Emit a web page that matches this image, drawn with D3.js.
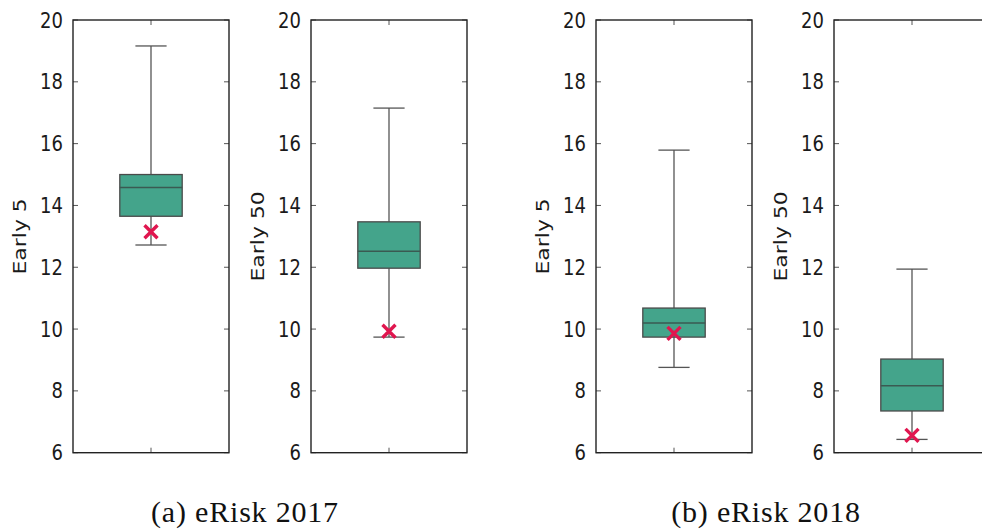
<!DOCTYPE html>
<html>
<head>
<meta charset="utf-8">
<script src="https://cdn.jsdelivr.net/npm/d3@7"></script>
<style>
  body { margin: 0; background: #fff; }
  svg { display: block; overflow: hidden; }
</style>
</head>
<body>
<div id="viz"></div>
<script>
// one entry per panel, left to right
var yLabels = ['Early 5', 'Early 50', 'Early 5', 'Early 50'];
var whiskerHigh = [19.16, 17.15, 15.79, 11.94];
var q3 = [15.0, 13.47, 10.68, 9.03];
var medians = [14.58, 12.52, 10.2, 8.17];
var q1 = [13.65, 11.97, 9.74, 7.35];
var whiskerLow = [12.72, 9.74, 8.76, 6.43];
var markers = [13.15, 9.93, 9.86, 6.56];

var yTicks = [6, 8, 10, 12, 14, 16, 18, 20];
var captions = ['(a) eRisk 2017', '(b) eRisk 2018'];

var W = 982, H = 530;
var panelLeft = [73, 311, 596, 834];
var panelW = 156, plotTop = 20, plotBottom = 452.7;
var BOX_FILL = '#44a48b';
var MARK = '#e0164f';
var TICK_LEN = 5;
var STRETCH = 1.22; // the source figure is a bit taller than wide

var svg = d3.select('#viz')
    .append('svg')
    .attr('width', W)
    .attr('height', H);

var y = d3.scaleLinear().domain([6, 20]).range([plotBottom, plotTop]);
var x = d3.scaleLinear().domain([0.5, 1.5]).range([0, panelW]);

var boxes = yLabels.map(function(label, i) {
  return {
    label: label,
    lo: whiskerLow[i], q1: q1[i], med: medians[i],
    q3: q3[i], hi: whiskerHigh[i], mark: markers[i]
  };
});

boxes.forEach(function(d, i) {
  var g = svg.append('g').attr('transform', 'translate(' + panelLeft[i] + ',0)');

  // axis with tick labels on the left
  var axisL = g.append('g').call(d3.axisLeft(y).tickValues(yTicks).tickSize(0).tickPadding(10));
  axisL.select('.domain').remove();
  axisL.selectAll('text')
      .attr('transform', 'scale(1,' + STRETCH + ')')
      .style('font-family', 'DejaVu Sans')
      .style('font-size', '18px')
      .attr('fill', '#1a1a1a');

  // inward ticks on both sides
  g.selectAll('.ytl').data(yTicks).enter().append('line')
      .attr('x1', 0).attr('x2', TICK_LEN)
      .attr('y1', y).attr('y2', y)
      .attr('stroke', '#555').attr('stroke-width', 1);
  g.selectAll('.ytr').data(yTicks).enter().append('line')
      .attr('x1', panelW).attr('x2', panelW - TICK_LEN)
      .attr('y1', y).attr('y2', y)
      .attr('stroke', '#555').attr('stroke-width', 1);
  [plotTop, plotBottom].forEach(function(yy, k) {
    g.append('line')
        .attr('x1', x(1)).attr('x2', x(1))
        .attr('y1', yy).attr('y2', k ? yy - TICK_LEN : yy + TICK_LEN)
        .attr('stroke', '#555').attr('stroke-width', 1);
  });

  // whiskers
  var bw = x(1.2) - x(0.8), cw = bw / 2;
  g.append('line')
      .attr('x1', x(1)).attr('x2', x(1))
      .attr('y1', y(d.hi)).attr('y2', y(d.q3))
      .attr('stroke', '#555').attr('stroke-width', 1.3);
  g.append('line')
      .attr('x1', x(1)).attr('x2', x(1))
      .attr('y1', y(d.q1)).attr('y2', y(d.lo))
      .attr('stroke', '#555').attr('stroke-width', 1.3);
  [d.hi, d.lo].forEach(function(v) {
    g.append('line')
        .attr('x1', x(1) - cw / 2).attr('x2', x(1) + cw / 2)
        .attr('y1', y(v)).attr('y2', y(v))
        .attr('stroke', '#555').attr('stroke-width', 1.3);
  });

  // box + median
  g.append('rect')
      .attr('x', x(0.8)).attr('width', bw)
      .attr('y', y(d.q3)).attr('height', y(d.q1) - y(d.q3))
      .attr('fill', BOX_FILL)
      .attr('stroke', '#4a4a4a').attr('stroke-width', 1.3);
  g.append('line')
      .attr('x1', x(0.8)).attr('x2', x(1.2))
      .attr('y1', y(d.med)).attr('y2', y(d.med))
      .attr('stroke', '#3a5a52').attr('stroke-width', 1.5);

  // red cross marker
  var s = 6.5, cx = x(1), cy = y(d.mark);
  g.append('path')
      .attr('d', 'M' + (cx - s) + ',' + (cy - s) + 'L' + (cx + s) + ',' + (cy + s) +
                 'M' + (cx - s) + ',' + (cy + s) + 'L' + (cx + s) + ',' + (cy - s))
      .attr('stroke', MARK).attr('stroke-width', 3.4).attr('fill', 'none');

  // frame
  g.append('rect')
      .attr('x', 0).attr('y', plotTop)
      .attr('width', panelW).attr('height', plotBottom - plotTop)
      .attr('fill', 'none').attr('stroke', '#222').attr('stroke-width', 1.4);

  // y label
  g.append('text')
      .attr('transform', 'translate(-47,' + ((plotTop + plotBottom) / 2) + ') scale(1,' + STRETCH + ') rotate(-90)')
      .attr('text-anchor', 'middle')
      .style('font-family', 'DejaVu Sans')
      .style('font-size', '18px')
      .attr('fill', '#1a1a1a')
      .text(d.label);
});

// sub-figure captions
svg.selectAll('.caption').data(captions).enter().append('text')
    .attr('x', function(c, i) { return i ? 766 : 245; })
    .attr('y', 522)
    .attr('text-anchor', 'middle')
    .style('font-family', 'Liberation Serif')
    .style('font-size', '30px')
    .style('letter-spacing', '0.8px')
    .attr('fill', '#111')
    .text(function(c) { return c; });
</script>
</body>
</html>
